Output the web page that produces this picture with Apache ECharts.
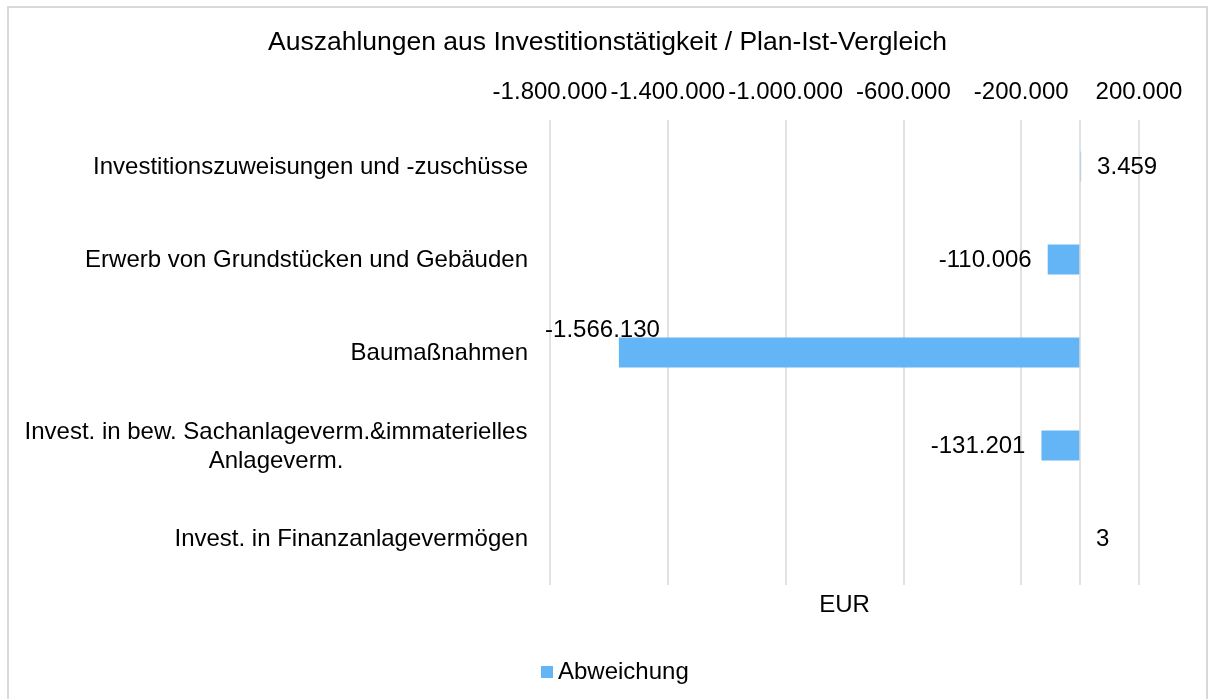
<!DOCTYPE html>
<html>
<head>
<meta charset="utf-8">
<title>Auszahlungen aus Investitionstätigkeit</title>
<script src="https://cdn.jsdelivr.net/npm/echarts@6/dist/echarts.min.js"></script>
<style>
  html, body { margin: 0; padding: 0; background: #fff; }
  #chart { width: 1210px; height: 699px; }
</style>
</head>
<body>
<div id="chart"></div>
<script>
// Daten
var categories = [
  'Investitionszuweisungen und -zuschüsse',
  'Erwerb von Grundstücken und Gebäuden',
  'Baumaßnahmen',
  'Invest. in bew. Sachanlageverm.&immaterielles\nAnlageverm.',
  'Invest. in Finanzanlagevermögen'
];
var abweichung = [3459, -110006, -1566130, -131201, 3];
var axisMin = -1800000;
var axisMax = 200000;
var axisStep = 400000;

// Zahlen im deutschen Format (1.234.567)
function fmt(v) {
  var s = Math.abs(v).toString().replace(/\B(?=(\d{3})+(?!\d))/g, '.');
  return (v < 0 ? '-' : '') + s;
}

var font = '"Liberation Sans", Arial, sans-serif';
var gridLeft = 550, gridRight = 71, gridTop = 120, gridBottom = 114;

var myChart = echarts.init(document.getElementById('chart'));
var option = {
  backgroundColor: '#fff',
  textStyle: { fontFamily: font, color: '#000' },
  title: {
    text: 'Auszahlungen aus Investitionstätigkeit / Plan-Ist-Vergleich',
    left: 268,
    top: 29,
    padding: 0,
    textStyle: { fontFamily: font, fontSize: 26.5, fontWeight: 'normal', color: '#000' }
  },
  legend: {
    data: ['Abweichung'],
    left: 541,
    top: 660,
    padding: 0,
    icon: 'rect',
    itemWidth: 12,
    itemHeight: 12,
    textStyle: { fontFamily: font, fontSize: 24, color: '#000' }
  },
  graphic: [{
    type: 'rect',
    silent: true,
    shape: { x: 8, y: 7, width: 1199, height: 720 },
    style: { fill: 'none', stroke: '#d9d9d9', lineWidth: 2 }
  }],
  grid: { left: gridLeft, right: gridRight, top: gridTop, bottom: gridBottom },
  xAxis: [{
    type: 'value',
    position: 'top',
    min: axisMin,
    max: axisMax,
    interval: axisStep,
    axisLine: { show: false },
    axisTick: { show: false },
    axisLabel: {
      margin: 16,
      fontFamily: font,
      fontSize: 24,
      color: '#000',
      formatter: fmt
    },
    splitLine: { lineStyle: { color: '#d9d9d9', width: 1.5 } }
  }, {
    type: 'value',
    position: 'bottom',
    min: axisMin,
    max: axisMax,
    name: 'EUR',
    nameLocation: 'middle',
    nameGap: 8,
    nameTextStyle: { fontFamily: font, fontSize: 24, color: '#000', verticalAlign: 'top' },
    axisLine: { show: false },
    axisTick: { show: false },
    axisLabel: { show: false },
    splitLine: { show: false }
  }],
  yAxis: {
    type: 'category',
    inverse: true,
    data: categories,
    axisLine: { show: false },
    axisTick: { show: false },
    axisLabel: {
      margin: 22,
      fontFamily: font,
      fontSize: 24,
      color: '#000',
      lineHeight: 29,
      padding: [2, 0, 0, 0],
      formatter: function (v) {
        if (v.indexOf('\n') < 0) return v;
        return v.split('\n').map(function (s) { return '{c|' + s + '}'; }).join('\n');
      },
      rich: {
        c: { width: 504, align: 'center', fontFamily: font, fontSize: 24, color: '#000', lineHeight: 29 }
      }
    }
  },
  series: [{
    name: 'Abweichung',
    type: 'bar',
    xAxisIndex: 0,
    barWidth: 30,
    itemStyle: { color: '#64b5f6' },
    label: {
      show: true,
      position: 'outside',
      distance: 16,
      offset: [0, 1],
      fontFamily: font,
      fontSize: 24,
      color: '#000',
      formatter: function (p) { return fmt(p.value); }
    },
    data: abweichung.map(function (v, i) {
      // Beschriftung der langen Säule sitzt darüber
      if (i === 2) return { value: v, label: { offset: [57, -22] } };
      return v;
    }),
    markLine: {
      silent: true,
      symbol: 'none',
      label: { show: false },
      lineStyle: { color: '#d9d9d9', type: 'solid', width: 1.5 },
      data: [{ xAxis: 0 }]
    }
  }]
};
myChart.setOption(option);
window.onresize = myChart.resize;
</script>
</body>
</html>
